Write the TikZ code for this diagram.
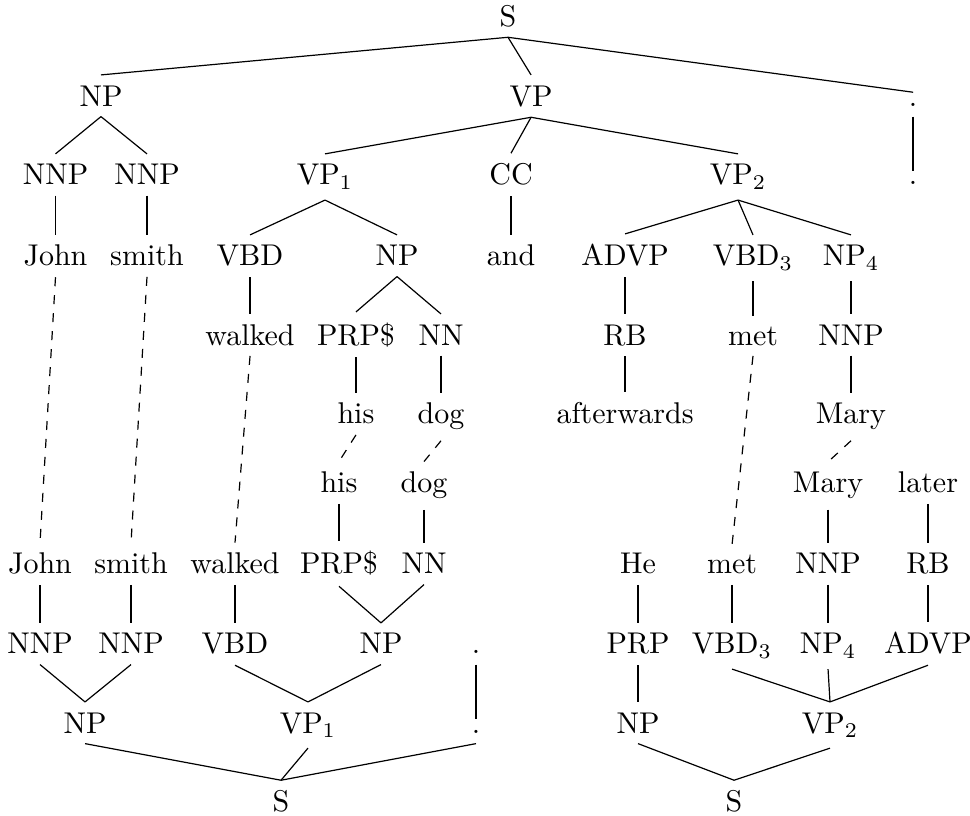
\documentclass[tikz,border=0pt]{standalone}
\usepackage{tikz}
\usetikzlibrary{positioning}
\tikzset{
    tag/.style={anchor=base},
    link/.style={dashed},
}
\begin{document}
\begin{tikzpicture}[every node/.style={tag}]
    \useasboundingbox (0,0) rectangle (11.363,-9.559);
    % upper tree
    \node (tS)      at (5.951,-0.305)  {S};
    \node (tNP)     at (1.183,-1.242)  {NP};
    \node (tVP)     at (6.221,-1.242)  {VP};
    \node (tPu)     at (10.696,-1.242) {.};
    \node (tNNPa)   at (0.650,-2.167)  {NNP};
    \node (tNNPb)   at (1.722,-2.167)  {NNP};
    \node (tVPa)    at (3.807,-2.167)  {VP$_1$};
    \node (tCC)     at (5.986,-2.167)  {CC};
    \node (tVPb)    at (8.646,-2.167)  {VP$_2$};
    \node (tPuw)    at (10.696,-2.167) {.};
    \node (tJohn)   at (0.650,-3.116)  {John};
    \node (tSmith)  at (1.722,-3.116)  {smith};
    \node (tVBD)    at (2.929,-3.116)  {VBD};
    \node (tNPa)    at (4.651,-3.116)  {NP};
    \node (tAnd)    at (5.986,-3.116)  {and};
    \node (tADVP)   at (7.322,-3.116)  {ADVP};
    \node (tVBDc)   at (8.821,-3.116)  {VBD$_3$};
    \node (tNPd)    at (9.969,-3.116)  {NP$_4$};
    \node (tWalked) at (2.929,-4.042)  {walked};
    \node (tPRP)    at (4.170,-4.042)  {PRP\$};
    \node (tNN)     at (5.166,-4.042)  {NN};
    \node (tRB)     at (7.322,-4.042)  {RB};
    \node (tMet)    at (8.821,-4.042)  {met};
    \node (tNNPc)   at (9.969,-4.042)  {NNP};
    \node (tHis)    at (4.170,-4.967)  {his};
    \node (tDog)    at (5.166,-4.967)  {dog};
    \node (tAfter)  at (7.322,-4.967)  {afterwards};
    \node (tMary)   at (9.969,-4.967)  {Mary};
    % lower trees, drawn upside down
    \node (bHis)    at (3.971,-5.775)  {his};
    \node (bDog)    at (4.967,-5.775)  {dog};
    \node (bMary)   at (9.700,-5.775)  {Mary};
    \node (bLater)  at (10.871,-5.775) {later};
    \node (bJohn)   at (0.469,-6.724)  {John};
    \node (bSmith)  at (1.535,-6.724)  {smith};
    \node (bWalked) at (2.753,-6.724)  {walked};
    \node (bPRP)    at (3.971,-6.724)  {PRP\$};
    \node (bNN)     at (4.967,-6.724)  {NN};
    \node (bHe)     at (7.474,-6.724)  {He};
    \node (bMet)    at (8.575,-6.724)  {met};
    \node (bNNPc)   at (9.700,-6.724)  {NNP};
    \node (bRB)     at (10.871,-6.724) {RB};
    \node (bNNPa)   at (0.469,-7.661)  {NNP};
    \node (bNNPb)   at (1.535,-7.661)  {NNP};
    \node (bVBD)    at (2.753,-7.661)  {VBD};
    \node (bNPa)    at (4.463,-7.661)  {NP};
    \node (bPuw)    at (5.576,-7.661)  {.};
    \node (bPRPh)   at (7.474,-7.661)  {PRP};
    \node (bVBDc)   at (8.575,-7.661)  {VBD$_3$};
    \node (bNPd)    at (9.700,-7.661)  {NP$_4$};
    \node (bADVP)   at (10.871,-7.661) {ADVP};
    \node (bNP)     at (0.996,-8.587)  {NP};
    \node (bVPa)    at (3.608,-8.587)  {VP$_1$};
    \node (bPu)     at (5.576,-8.587)  {.};
    \node (bNPh)    at (7.474,-8.587)  {NP};
    \node (bVPb)    at (9.723,-8.587)  {VP$_2$};
    \node (bSa)     at (3.292,-9.512)  {S};
    \node (bSb)     at (8.599,-9.512)  {S};

    % upper branches
    \draw (tS.south) -- (tNP.north);     \draw (tS.south) -- (tVP.north);
    \draw (tS.south) -- (tPu.north);     \draw (tPu.south) -- (tPuw.north);
    \draw (tNP.south) -- (tNNPa.north);  \draw (tNP.south) -- (tNNPb.north);
    \draw (tNNPa.south) -- (tJohn.north); \draw (tNNPb.south) -- (tSmith.north);
    \draw (tVP.south) -- (tVPa.north);   \draw (tVP.south) -- (tCC.north);
    \draw (tVP.south) -- (tVPb.north);   \draw (tCC.south) -- (tAnd.north);
    \draw (tVPa.south) -- (tVBD.north);  \draw (tVPa.south) -- (tNPa.north);
    \draw (tVBD.south) -- (tWalked.north);
    \draw (tNPa.south) -- (tPRP.north);  \draw (tNPa.south) -- (tNN.north);
    \draw (tPRP.south) -- (tHis.north);  \draw (tNN.south) -- (tDog.north);
    \draw (tVPb.south) -- (tADVP.north); \draw (tVPb.south) -- (tVBDc.north);
    \draw (tVPb.south) -- (tNPd.north);  \draw (tADVP.south) -- (tRB.north);
    \draw (tRB.south) -- (tAfter.north); \draw (tVBDc.south) -- (tMet.north);
    \draw (tNPd.south) -- (tNNPc.north); \draw (tNNPc.south) -- (tMary.north);
    % lower branches
    \draw (bHis.south) -- (bPRP.north);  \draw (bDog.south) -- (bNN.north);
    \draw (bMary.south) -- (bNNPc.north); \draw (bLater.south) -- (bRB.north);
    \draw (bJohn.south) -- (bNNPa.north); \draw (bSmith.south) -- (bNNPb.north);
    \draw (bWalked.south) -- (bVBD.north);
    \draw (bPRP.south) -- (bNPa.north);  \draw (bNN.south) -- (bNPa.north);
    \draw (bHe.south) -- (bPRPh.north);  \draw (bMet.south) -- (bVBDc.north);
    \draw (bNNPc.south) -- (bNPd.north); \draw (bRB.south) -- (bADVP.north);
    \draw (bNNPa.south) -- (bNP.north);  \draw (bNNPb.south) -- (bNP.north);
    \draw (bVBD.south) -- (bVPa.north);  \draw (bNPa.south) -- (bVPa.north);
    \draw (bPuw.south) -- (bPu.north);   \draw (bPRPh.south) -- (bNPh.north);
    \draw (bVBDc.south) -- (bVPb.north); \draw (bNPd.south) -- (bVPb.north);
    \draw (bADVP.south) -- (bVPb.north);
    \draw (bNP.south) -- (bSa.north);    \draw (bVPa.south) -- (bSa.north);
    \draw (bPu.south) -- (bSa.north);
    \draw (bNPh.south) -- (bSb.north);   \draw (bVPb.south) -- (bSb.north);
    % word alignment
    \draw[link] (tJohn.south) -- (bJohn.north);
    \draw[link] (tSmith.south) -- (bSmith.north);
    \draw[link] (tWalked.south) -- (bWalked.north);
    \draw[link] (tHis.south) -- (bHis.north);
    \draw[link] (tDog.south) -- (bDog.north);
    \draw[link] (tMet.south) -- (bMet.north);
    \draw[link] (tMary.south) -- (bMary.north);
\end{tikzpicture}
\end{document}
